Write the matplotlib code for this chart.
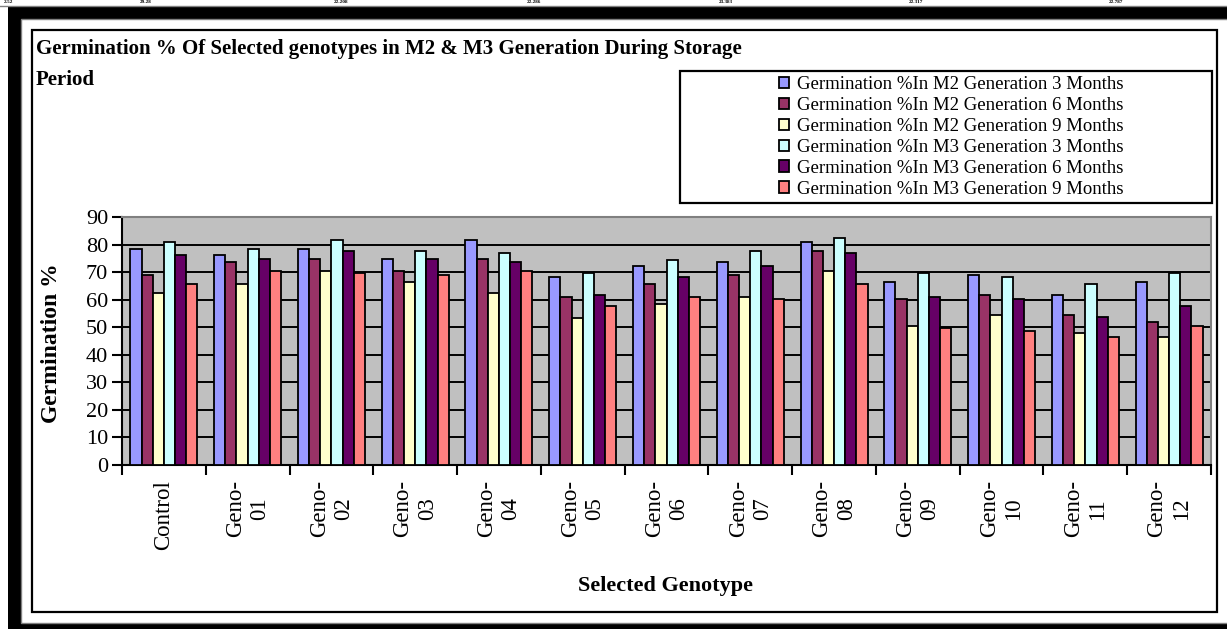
import matplotlib
matplotlib.use("Agg")
import matplotlib.pyplot as plt
from matplotlib.patches import Rectangle
from matplotlib.lines import Line2D
import numpy as np

plt.rcParams['font.family'] = ['Liberation Serif', 'DejaVu Serif']

# data
genotypes = ["Control", "Geno-\n01", "Geno-\n02", "Geno-\n03", "Geno-\n04", "Geno-\n05", "Geno-\n06",
             "Geno-\n07", "Geno-\n08", "Geno-\n09", "Geno-\n10", "Geno-\n11", "Geno-\n12"]
m2_3m = [78.5, 76.2, 78.5, 74.6, 81.6, 68.1, 72.1, 73.8, 80.9, 66.5, 68.9, 61.7, 66.5]
m2_6m = [68.8, 73.8, 74.6, 70.5, 74.6, 60.8, 65.8, 68.9, 77.8, 60.1, 61.7, 54.4, 52.0]
m2_9m = [62.4, 65.6, 70.5, 66.5, 62.4, 53.5, 58.4, 60.8, 70.5, 50.4, 54.4, 48.0, 46.4]
m3_3m = [80.9, 78.5, 81.6, 77.8, 77.1, 69.6, 74.5, 77.8, 82.5, 69.6, 68.1, 65.6, 69.6]
m3_6m = [76.2, 74.6, 77.8, 74.6, 73.8, 61.7, 68.1, 72.1, 76.9, 60.8, 60.1, 53.7, 57.7]
m3_9m = [65.6, 70.5, 69.8, 68.9, 70.5, 57.7, 60.8, 60.1, 65.8, 49.7, 48.8, 46.4, 50.4]
series_names = ["Germination %In M2 Generation 3 Months",
                "Germination %In M2 Generation 6 Months",
                "Germination %In M2 Generation 9 Months",
                "Germination %In M3 Generation 3 Months",
                "Germination %In M3 Generation 6 Months",
                "Germination %In M3 Generation 9 Months"]
yticks = [0, 10, 20, 30, 40, 50, 60, 70, 80, 90]
# numbers of the table row cut off above the chart
top_row = ["2.52", "29.28", "22.208", "22.286", "23.383", "22.317", "22.787"]

colors = ["#9999FF", "#993366", "#FFFFCC", "#CCFFFF", "#660066", "#FF8080"]
series = [m2_3m, m2_6m, m2_9m, m3_3m, m3_6m, m3_9m]

W, H = 1227, 629


def fx(x):
    return x / W


def fy(y):
    return 1 - y / H


fig = plt.figure(figsize=(W / 100, H / 100), dpi=100)


def rect(x0, y0, x1, y1, **kw):
    r = Rectangle((fx(x0), fy(y1)), (x1 - x0) / W, (y1 - y0) / H, transform=fig.transFigure, **kw)
    fig.add_artist(r)


# page frame
fig.add_artist(Line2D([0, 1], [fy(6), fy(6)], color="#808080", lw=1, transform=fig.transFigure))
rect(8, 7, 1260, 660, facecolor="black", edgecolor="none", zorder=-5)
rect(21, 19, 1260, 622.5, facecolor="white", edgecolor="#808080", linewidth=1, zorder=-4)
rect(32, 30, 1217, 612, facecolor="none", edgecolor="black", linewidth=1.6, zorder=-3)
rect(680, 71, 1212, 203, facecolor="white", edgecolor="black", linewidth=1.6, zorder=-2)

for xp, s in zip([4, 140, 334, 527, 719, 909, 1109], top_row):
    fig.text(fx(xp), fy(0.3), s, ha="left", va="top", fontsize=3.8, fontweight="bold")

ax = fig.add_axes([fx(122), fy(465), (1211 - 122) / W, (465 - 217) / H])
ax.set_facecolor("#C0C0C0")

x = np.arange(len(genotypes))
bw = 0.8 / len(series)
for i, (vals, c, name) in enumerate(zip(series, colors, series_names)):
    ax.bar(x - 0.4 + bw * (i + 0.5), vals, bw, color=c, edgecolor="black", linewidth=1.3,
           label=name, zorder=3)

for yv in yticks[1:-1]:
    ax.axhline(yv, color="black", linewidth=1.4, zorder=1)

ax.set_xlim(-0.5, len(genotypes) - 0.5)
ax.set_ylim(0, 90)
ax.set_yticks(yticks)
ax.tick_params(axis="y", direction="out", length=7, width=1.5, pad=3, labelsize=16)
ax.set_xticks(x)
ax.set_xticklabels(genotypes, rotation=90, multialignment="center", fontsize=16.5)
ax.set_xticks(np.arange(-0.5, len(genotypes), 1), minor=True)
ax.tick_params(axis="x", which="major", length=0, pad=11)
ax.tick_params(axis="x", which="minor", direction="out", length=7, width=1.5)
for side in ["left", "bottom"]:
    ax.spines[side].set_linewidth(1.5)
    ax.spines[side].set_color("black")
for side in ["top", "right"]:
    ax.spines[side].set_linewidth(1.5)
    ax.spines[side].set_color("#808080")

fig.text(fx(36), fy(39), "Germination % Of Selected genotypes in M2 & M3 Generation During Storage\nPeriod",
         ha="left", va="top", fontsize=15, fontweight="bold", linespacing=1.72)
fig.text(fx(52), fy(343), "Germination %", rotation=90, ha="center", va="center",
         fontsize=17, fontweight="bold")
fig.text(fx(665), fy(586), "Selected Genotype", ha="center", va="center", fontsize=16, fontweight="bold")

fig.legend(loc="upper left", bbox_to_anchor=(fx(779), fy(76)), frameon=False, fontsize=13.5,
           handlelength=0.55, handleheight=0.55, handletextpad=0.4, labelspacing=0.21,
           borderpad=0, borderaxespad=0)

fig.savefig("out.png", dpi=100)
